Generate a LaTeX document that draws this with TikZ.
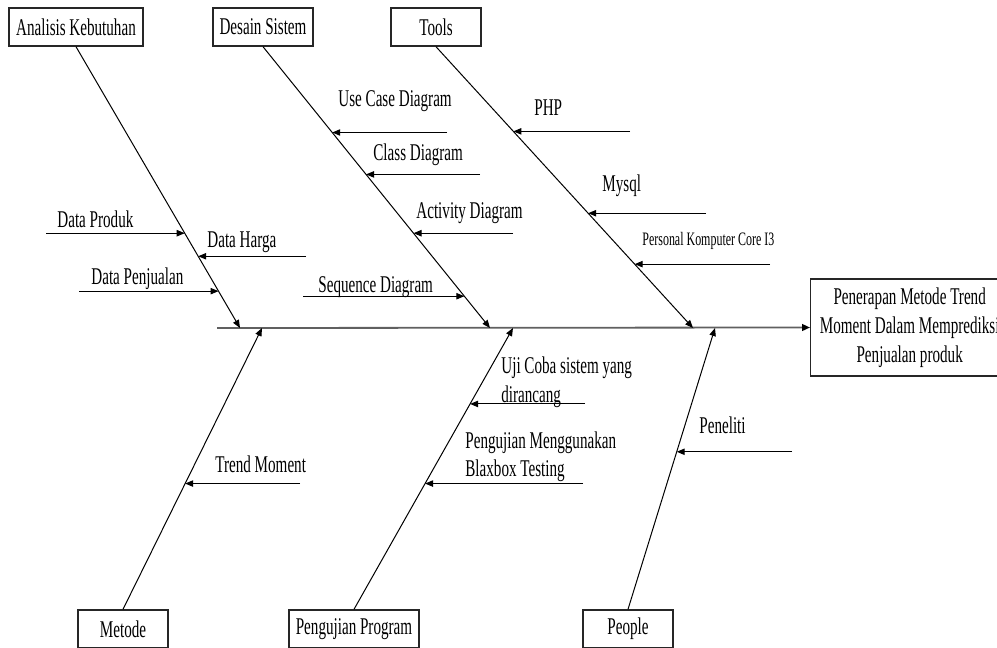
\documentclass[tikz,border=0pt]{standalone}
\usepackage{fontspec}
\setmainfont{Liberation Serif}[FakeStretch=0.63]
\usetikzlibrary{calc,arrows.meta}

\begin{document}
\begin{tikzpicture}[x=0.5pt,y=-0.5pt]

\tikzset{boxnode/.style={draw=black!85,line width=0.7pt,font=\fontsize{12}{14.5}\selectfont,inner sep=0pt,minimum height=19pt},
labelnode/.style={font=\fontsize{12}{14.5}\selectfont,inner sep=0pt,anchor=base west},
bone/.style={line width=0.5pt,-{Triangle[length=4pt,width=3.2pt]}},
cause/.style={line width=0.5pt,-{Triangle[length=4pt,width=3.2pt]}}}

\useasboundingbox (0,0) rectangle (997,648);

% Category boxes
\node[boxnode,minimum width=67pt] (ak) at (76,27) {Analisis Kebutuhan};
\node[boxnode,minimum width=50pt] (ds) at (263,27) {Desain Sistem};
\node[boxnode,minimum width=45pt] (tl) at (436,27) {Tools};
\node[boxnode,minimum width=45pt] (mt) at (123,629) {Metode};
\node[boxnode,minimum width=65pt] (pp) at (354,629) {Pengujian Program};
\node[boxnode,minimum width=45pt] (pe) at (628,629) {People};

% Effect
\node[boxnode,anchor=west,minimum width=99pt,minimum height=48.5pt,align=center] (res) at (810,327.5) {Penerapan Metode Trend\\Moment Dalam Memprediksi\\Penjualan produk};

% Spine
\coordinate (spL) at (217,328);
\draw[line width=0.9pt,gray!75!black,-{Triangle[length=4pt,width=3.4pt,color=black]}] (spL) -- (res.west);

% Bones
\coordinate (ak-end) at (240,328); \coordinate (ds-end) at (490,328); \coordinate (tl-end) at (693,328);
\coordinate (mt-end) at (262,328); \coordinate (pp-end) at (513,328); \coordinate (pe-end) at (715,328);
\foreach \b in {ak,ds,tl} \draw[bone] (\b.south) -- (\b-end);
\foreach \b in {mt,pp,pe} \draw[bone] (\b.north) -- (\b-end);

% Sub causes: bone/anchor/name/fraction from spine/free end x
\foreach \b/\a/\n/\f/\x in {ak/south/dp/0.337/46, ak/south/dh/0.255/306, ak/south/dj/0.131/79,
  ds/south/uc/0.695/447, ds/south/cd/0.546/480, ds/south/ad/0.337/513, ds/south/sd/0.113/303,
  tl/south/ph/0.699/630, tl/south/my/0.408/706, tl/south/pk/0.227/770,
  mt/north/tm/0.553/300, pp/north/uj/0.270/585, pp/north/pm/0.553/583, pe/north/pn/0.440/792}
{
  \coordinate (\n) at ($(\b-end)!\f!(\b.\a)$);
  \coordinate (\n-s) at (\x,0 |- \n);
  \draw[cause] (\n-s) -- (\n);
}

% Labels
\node[labelnode] (l-dp) at (57,227) {Data Produk};
\node[labelnode] (l-dh) at (207,247.5) {Data Harga};
\node[labelnode] (l-dj) at (91,284) {Data Penjualan};
\node[labelnode] (l-uc) at (338,106.5) {Use Case Diagram};
\node[labelnode] (l-cd) at (373,160) {Class Diagram};
\node[labelnode] (l-ad) at (416,218) {Activity Diagram};
\node[labelnode] (l-sd) at (318,292) {Sequence Diagram};
\node[labelnode] (l-ph) at (534,115) {PHP};
\node[labelnode] (l-my) at (602,191) {Mysql};
\node[labelnode,font=\fontsize{9.5}{11}\selectfont] (l-pk) at (642,245) {Personal Komputer Core I3};
\node[labelnode] (l-tm) at (215,472.5) {Trend Moment};
\node[labelnode] (l-uj1) at (501,373.5) {Uji Coba sistem yang};
\node[labelnode] (l-uj2) at (501,402.5) {dirancang};
\node[labelnode] (l-pm1) at (465,448) {Pengujian Menggunakan};
\node[labelnode] (l-pm2) at (465,476) {Blaxbox Testing};
\node[labelnode] (l-pn) at (699,433.5) {Peneliti};

\end{tikzpicture}
\end{document}
